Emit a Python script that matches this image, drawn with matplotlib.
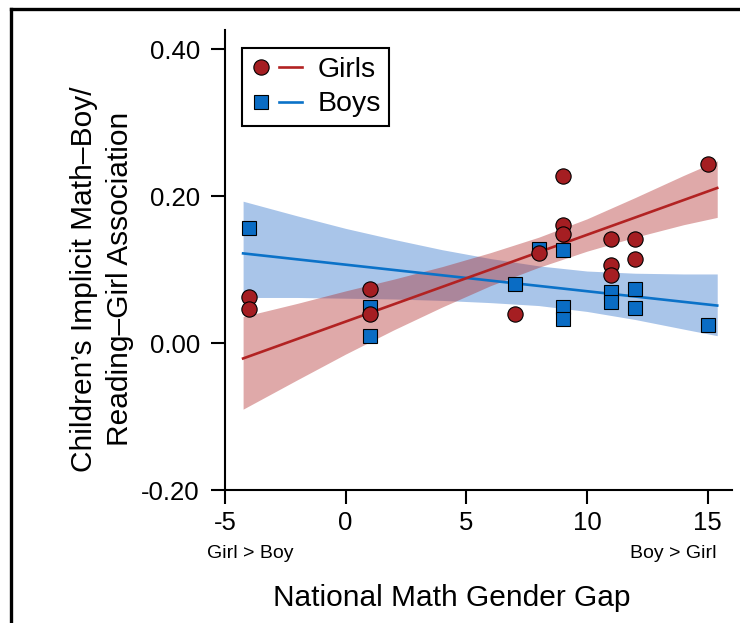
import matplotlib
matplotlib.use("Agg")
import matplotlib.pyplot as plt
from matplotlib.lines import Line2D
from matplotlib.legend_handler import HandlerTuple

plt.rcParams["font.family"] = ["Liberation Sans", "DejaVu Sans"]
plt.rcParams["axes.unicode_minus"] = False

# country-level points (national gap, implicit association)
girls_x = [15, 9, 9, 9, 8, 11, 12, 12, 11, 11, 7, 1, 1, -4, -4]
girls_y = [0.244, 0.227, 0.160, 0.149, 0.123, 0.141, 0.141, 0.115,
           0.106, 0.093, 0.040, 0.073, 0.040, 0.063, 0.046]

boys_x = [-4, 1, 1, 8, 9, 7, 9, 9, 11, 11, 12, 12, 15]
boys_y = [0.156, 0.049, 0.010, 0.128, 0.127, 0.081, 0.049, 0.033,
          0.070, 0.056, 0.074, 0.048, 0.024]

# fitted lines and confidence bands
fit_x = [-4.25, 15.4]
girls_fit = [-0.021, 0.211]
boys_fit = [0.122, 0.051]

band_x = [-4.25, -2, 0, 2, 4, 6, 8, 10, 12, 14, 15.4]
girls_lo = [-0.090, -0.050, -0.015, 0.018, 0.049, 0.078, 0.103, 0.125, 0.144, 0.161, 0.171]
girls_hi = [0.036, 0.054, 0.071, 0.087, 0.104, 0.123, 0.144, 0.169, 0.198, 0.228, 0.248]
boys_lo = [0.062, 0.062, 0.061, 0.060, 0.058, 0.055, 0.051, 0.043, 0.032, 0.019, 0.010]
boys_hi = [0.193, 0.173, 0.156, 0.141, 0.127, 0.115, 0.105, 0.098, 0.095, 0.094, 0.094]

x_ticks = [-5, 0, 5, 10, 15]
y_ticks = [-0.20, 0.00, 0.20, 0.40]

RED = "#A51E22"
RED_LINE = "#B22222"
BLUE = "#0A6CC4"
BLUE_LINE = "#0B72C8"

fig = plt.figure(figsize=(7.4, 6.23), dpi=100)
ax = fig.add_axes([225 / 740, (623 - 490) / 623, (731.7 - 225) / 740, (490 - 30) / 623])

ax.fill_between(band_x, boys_lo, boys_hi, color="#2A6ECA", alpha=0.4, lw=0)
ax.fill_between(band_x, girls_lo, girls_hi, color="#AF2828", alpha=0.4, lw=0)
ax.plot(fit_x, boys_fit, color=BLUE_LINE, lw=1.9)
ax.plot(fit_x, girls_fit, color=RED_LINE, lw=1.9)

ax.plot(boys_x, boys_y, "s", ms=10, mfc=BLUE, mec="black", mew=0.8, ls="none")
ax.plot(girls_x, girls_y, "o", ms=11, mfc=RED, mec="black", mew=0.8, ls="none")

ax.set_xlim(-5, 16.0)
ax.set_ylim(-0.2, 0.426)
ax.set_xticks(x_ticks)
ax.set_xticklabels([str(t) for t in x_ticks])
ax.set_yticks(y_ticks)
ax.set_yticklabels(["%.2f" % t for t in y_ticks])
for s in ["top", "right"]:
    ax.spines[s].set_visible(False)
for s in ["left", "bottom"]:
    ax.spines[s].set_linewidth(1.5)
ax.tick_params(axis="both", direction="out", length=10, width=1.5, labelsize=18.5)
ax.tick_params(axis="y", pad=8)
ax.tick_params(axis="x", pad=5)

# legend: marker and line side by side
g_pt = Line2D([], [], marker="o", ms=11, mfc=RED, mec="black", mew=0.8, ls="none")
g_ln = Line2D([], [], color=RED_LINE, lw=1.9)
b_pt = Line2D([], [], marker="s", ms=10, mfc=BLUE, mec="black", mew=0.8, ls="none")
b_ln = Line2D([], [], color=BLUE_LINE, lw=1.9)
leg = ax.legend([(g_pt, g_ln), (b_pt, b_ln)], ["Girls", "Boys"],
                handler_map={tuple: HandlerTuple(ndivide=None, pad=0.25)},
                loc="upper left", bbox_to_anchor=(0.033, 0.960), borderaxespad=0,
                fontsize=20.5, handlelength=1.8, handletextpad=0.55,
                borderpad=0.3, labelspacing=0.3, fancybox=False,
                edgecolor="black", framealpha=1)
leg.get_frame().set_linewidth(1.5)

fig.text(452 / 740, 1 - 606 / 623, "National Math Gender Gap", fontsize=21.5,
         ha="center", va="baseline")
fig.text(102 / 740, 1 - 279 / 623, "Children\u2019s Implicit Math\u2013Boy/\nReading\u2013Girl Association",
         rotation=90, ha="center", va="center", fontsize=21.5, multialignment="center",
         linespacing=1.35)

fig.text(207 / 740, 1 - 554 / 623, "Girl > Boy", fontsize=14, ha="left", va="center")
fig.text(716 / 740, 1 - 554 / 623, "Boy > Girl", fontsize=14, ha="right", va="center")

# frame lines along the top and left of the image
fig.add_artist(Line2D([10.5 / 740, 1], [1 - 8.5 / 623] * 2, transform=fig.transFigure,
                      color="black", lw=2.4))
fig.add_artist(Line2D([10.5 / 740] * 2, [0, 1 - 8.5 / 623], transform=fig.transFigure,
                      color="black", lw=2.4))

fig.savefig("out.png", dpi=100)
